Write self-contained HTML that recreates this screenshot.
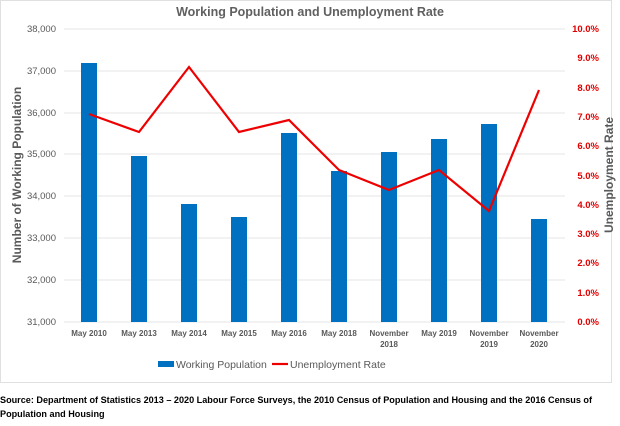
<!DOCTYPE html>
<html><head><style>
body{margin:0;background:#fff;}
svg text{font-family:"Liberation Sans",sans-serif;}
</style></head><body>
<svg width="620" height="421" viewBox="0 0 620 421" xmlns="http://www.w3.org/2000/svg">
<rect x="0.5" y="0.5" width="611" height="382" fill="#fff" stroke="#e0e0e0"/>
<text x="310" y="16" text-anchor="middle" font-size="12.5" font-weight="bold" fill="#606060">Working Population and Unemployment Rate</text>
<g stroke="#e4e4e4" stroke-width="1">
<line x1="64" x2="565" y1="29" y2="29"/><line x1="64" x2="565" y1="71" y2="71"/>
<line x1="64" x2="565" y1="113" y2="113"/><line x1="64" x2="565" y1="154" y2="154"/>
<line x1="64" x2="565" y1="196" y2="196"/><line x1="64" x2="565" y1="238" y2="238"/>
<line x1="64" x2="565" y1="280" y2="280"/><line x1="64" x2="565" y1="322" y2="322"/>
</g>
<g font-size="9.5" fill="#595959" text-anchor="end">
<text x="56" y="32">38,000</text><text x="56" y="74">37,000</text><text x="56" y="116">36,000</text>
<text x="56" y="157">35,000</text><text x="56" y="199">34,000</text><text x="56" y="241">33,000</text>
<text x="56" y="283">32,000</text><text x="56" y="325">31,000</text>
</g>
<g font-size="9.5" fill="#e00000" font-weight="bold" text-anchor="end">
<text x="599" y="32">10.0%</text><text x="599" y="61">9.0%</text><text x="599" y="91">8.0%</text>
<text x="599" y="120">7.0%</text><text x="599" y="149">6.0%</text><text x="599" y="179">5.0%</text>
<text x="599" y="208">4.0%</text><text x="599" y="237">3.0%</text><text x="599" y="266">2.0%</text>
<text x="599" y="296">1.0%</text><text x="599" y="325">0.0%</text>
</g>
<text transform="translate(21,175) rotate(-90)" text-anchor="middle" font-size="12" font-weight="bold" fill="#595959">Number of Working Population</text>
<text transform="translate(613,175) rotate(-90)" text-anchor="middle" font-size="12" font-weight="bold" fill="#595959">Unemployment Rate</text>
<g fill="#0070c0">
<rect x="81" y="63" width="16" height="259"/><rect x="131" y="156" width="16" height="166"/>
<rect x="181" y="204" width="16" height="118"/><rect x="231" y="217" width="16" height="105"/>
<rect x="281" y="133" width="16" height="189"/><rect x="331" y="171" width="16" height="151"/>
<rect x="381" y="152" width="16" height="170"/><rect x="431" y="139" width="16" height="183"/>
<rect x="481" y="124" width="16" height="198"/><rect x="531" y="219" width="16" height="103"/>
</g>
<polyline fill="none" stroke="#ee0000" stroke-width="2.2" points="89,114 139,132 189,67 239,132 289,120 339,170 389,190 439,170 489,211 539,90"/>
<g font-size="8" fill="#595959" font-weight="bold" text-anchor="middle">
<text x="89" y="336">May 2010</text><text x="139" y="336">May 2013</text><text x="189" y="336">May 2014</text>
<text x="239" y="336">May 2015</text><text x="289" y="336">May 2016</text><text x="339" y="336">May 2018</text>
<text x="389" y="336">November</text><text x="389" y="347">2018</text><text x="439" y="336">May 2019</text>
<text x="489" y="336">November</text><text x="489" y="347">2019</text>
<text x="539" y="336">November</text><text x="539" y="347">2020</text>
</g>
<rect x="158" y="361" width="16" height="6" fill="#0070c0"/>
<text x="176" y="368" font-size="10.5" fill="#595959">Working Population</text>
<line x1="272" x2="288" y1="364" y2="364" stroke="#ee0000" stroke-width="2.2"/>
<text x="290" y="368" font-size="10.5" fill="#595959">Unemployment Rate</text>
<text x="0" y="403" font-size="9.1" font-weight="bold" fill="#000" textLength="592" lengthAdjust="spacingAndGlyphs">Source: Department of Statistics 2013 – 2020 Labour Force Surveys, the 2010 Census of Population and Housing and the 2016 Census of</text>
<text x="0" y="417" font-size="9.1" font-weight="bold" fill="#000">Population and Housing</text>
</svg>
</body></html>
